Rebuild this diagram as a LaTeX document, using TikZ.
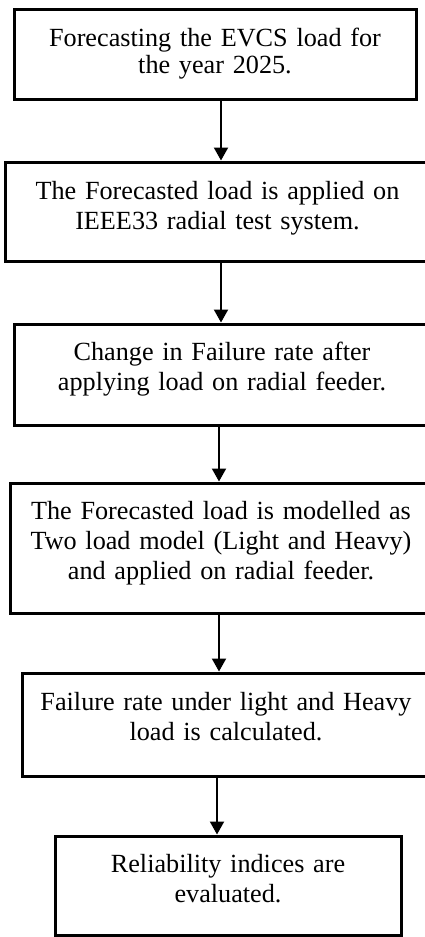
\documentclass[tikz,border=0pt]{standalone}
\usepackage{fontspec}
\setmainfont{Liberation Serif}
\usetikzlibrary{arrows.meta}

% invisible struts fixing the top and bottom of a text block
\newcommand\topst[1]{\rule{0pt}{#1pt}}
\newcommand\botst[1]{\rule[-#1pt]{0pt}{#1pt}}

\tikzset{
  stepbox/.style={draw, line width=3pt, inner sep=0pt, align=center,
    font=\fontsize{26.2}{30}\selectfont},
  tightbox/.style={stepbox, font=\fontsize{26.2}{27}\selectfont},
  arr/.style={line width=2pt, -{Triangle[width=14pt,length=13pt]}}
}

\begin{document}
\begin{tikzpicture}[x=1pt,y=-1pt]
  \useasboundingbox (0,0) rectangle (425,937);
  \clip (0,0) rectangle (425,937);

  % process steps
  \node[tightbox, minimum width=402pt, minimum height=90pt, text width=396pt]
    (b1) at (215,54)
    {\topst{20}Forecasting the EVCS load for\\the year 2025.\botst{9}};
  \node[stepbox, minimum width=425pt, minimum height=99pt, text width=419pt]
    (b2) at (217.5,211.5)
    {\topst{20}The Forecasted load is applied on\\IEEE33 radial test system.\botst{14}};
  \node[stepbox, minimum width=416pt, minimum height=101pt, text width=410pt]
    (b3) at (222,374.5)
    {\topst{20}Change in Failure rate after\\applying load on radial feeder.\botst{18}};
  \node[stepbox, minimum width=422pt, minimum height=130pt, text width=416pt]
    (b4) at (221,548)
    {\topst{20}The Forecasted load is modelled as\\Two load model (Light and Heavy)\\and applied on radial feeder.\botst{17}};
  \node[stepbox, minimum width=408pt, minimum height=103pt, text width=402pt]
    (b5) at (226,724.5)
    {\topst{20}Failure rate under light and Heavy\\load is calculated.\botst{17.5}};
  \node[stepbox, minimum width=346pt, minimum height=99pt, text width=340pt]
    (b6) at (228,885.5)
    {\topst{20}Reliability indices are\\evaluated.\botst{15.5}};

  % horizontal positions of the connectors
  \coordinate (a1) at (221,0);
  \coordinate (a2) at (221,0);
  \coordinate (a3) at (219,0);
  \coordinate (a4) at (219,0);
  \coordinate (a5) at (217,0);

  \draw[arr] (b1.south -| a1) -- (b2.north -| a1);
  \draw[arr] (b2.south -| a2) -- (b3.north -| a2);
  \draw[arr] (b3.south -| a3) -- (b4.north -| a3);
  \draw[arr] (b4.south -| a4) -- (b5.north -| a4);
  \draw[arr] (b5.south -| a5) -- (b6.north -| a5);
\end{tikzpicture}
\end{document}
